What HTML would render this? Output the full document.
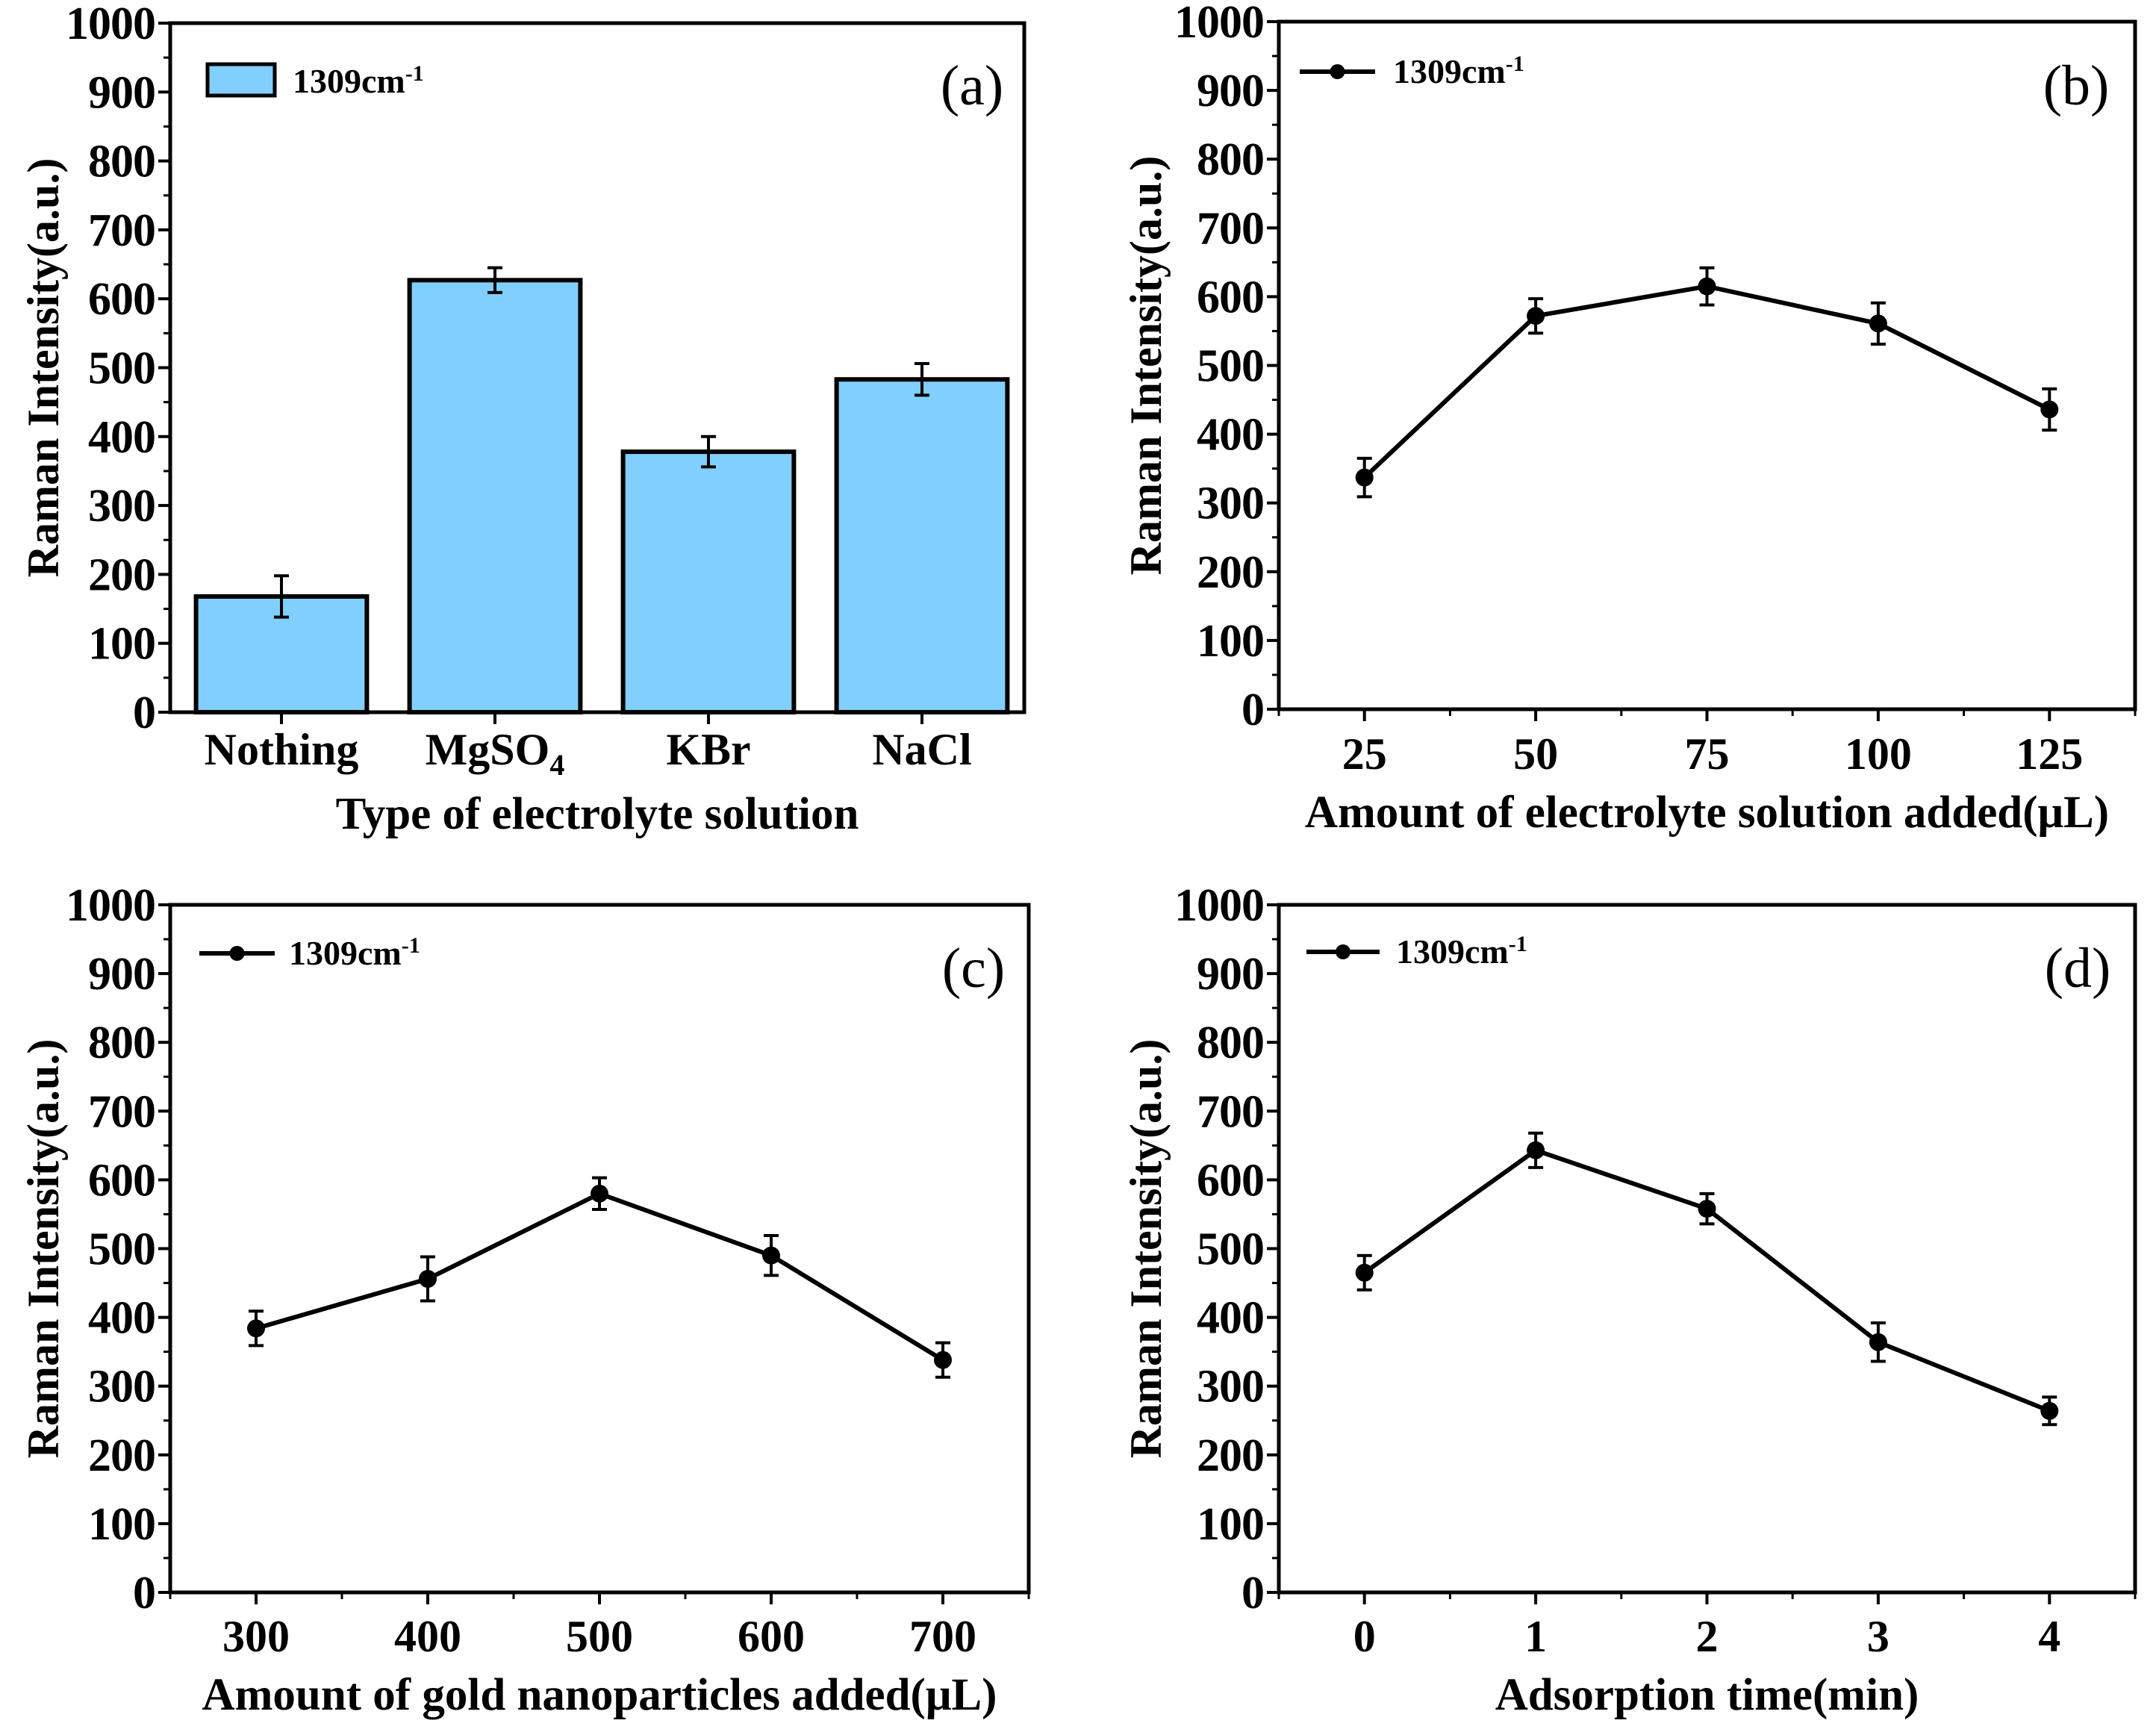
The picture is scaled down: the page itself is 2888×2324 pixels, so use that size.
<!DOCTYPE html>
<html><head><meta charset="utf-8"><style>
html,body{margin:0;padding:0;background:#fff;}
svg{display:block;font-family:"Liberation Serif",serif;}
</style></head><body>
<svg id="fig" width="2888" height="2324" viewBox="0 0 2888 2324" xmlns="http://www.w3.org/2000/svg"></svg>
<script>
const yTicks = [0,100,200,300,400,500,600,700,800,900,1000];
const aCategories = ["Nothing","MgSO4","KBr","NaCl"];
const aValues = [168,627,378,483];
const aErrors = [30,18,22,23];
const bX = [25,50,75,100,125];
const bValues = [337,572,615,561,436];
const bErrors = [28,25,27,30,30];
const cX = [300,400,500,600,700];
const cValues = [384,456,580,490,338];
const cErrors = [25,32,23,29,25];
const dX = [0,1,2,3,4];
const dValues = [465,643,558,364,264];
const dErrors = [25,25,22,28,20];

const svg = document.getElementById('fig');
const NS = 'http://www.w3.org/2000/svg';
function mk(tag, attrs, parent){
  const e = document.createElementNS(NS, tag);
  for (const k in attrs) e.setAttribute(k, attrs[k]);
  (parent||svg).appendChild(e);
  return e;
}

function axesFrame(g, P, xt, xlabel, ytitleX, tickLabelY, titleY, xMinor){
  const ys = v => P.B - (v/1000)*(P.B-P.T);
  yTicks.forEach(v=>{
    const t = mk('line',{x1:P.L-16,x2:P.L,y1:ys(v),y2:ys(v),stroke:'#000','stroke-width':4},g);
    
    
    const tx = mk('text',{x:P.L-20,y:ys(v)+21,'text-anchor':'end','font-size':62,'font-weight':'bold','letter-spacing':-1},g);
    tx.textContent = v;
    
    
    if (v<1000){
      const m = mk('line',{x1:P.L-9,x2:P.L,y1:ys(v+50),y2:ys(v+50),stroke:'#000','stroke-width':3},g);
      
      
    }
  });
  xt.forEach(o=>{
    const t = mk('line',{x1:o.x,x2:o.x,y1:P.B,y2:P.B+16,stroke:'#000','stroke-width':4},g);
    
    
    if (o.label!==undefined){
      const tx = mk('text',{x:o.x,y:tickLabelY,'text-anchor':'middle','font-size':60,'font-weight':'bold'},g);
      if (o.label==='MgSO4'){ tx.innerHTML='MgSO<tspan font-size="40" dy="14">4</tspan>'; }
      else tx.textContent=o.label;
      
      
    }
  });
  (xMinor||[]).forEach(x=>{
    const m = mk('line',{x1:x,x2:x,y1:P.B,y2:P.B+9,stroke:'#000','stroke-width':3},g);
    
    
  });
  const f = mk('rect',{x:P.L,y:P.T,width:P.R-P.L,height:P.B-P.T,fill:'none',stroke:'#000','stroke-width':5},g);
  
  
  const xt2 = mk('text',{x:(P.L+P.R)/2,y:titleY,'text-anchor':'middle','font-size':61,'font-weight':'bold'},g);
  xt2.textContent = xlabel;
  
  
  const cy=(P.T+P.B)/2;
  const yt = mk('text',{x:ytitleX,y:cy,'text-anchor':'middle','font-size':60,'font-weight':'bold',transform:`rotate(-90 ${ytitleX} ${cy})`,dy:20},g);
  yt.textContent = 'Raman Intensity(a.u.)';
  
  
  return ys;
}

function legendText(g,x,y){
  const t = mk('text',{x:x,y:y,'font-size':46,'font-weight':'bold'},g);
  t.innerHTML='1309cm<tspan font-size="30" dy="-16">-1</tspan>';
  
  
}
function panelLabel(g,x,y,s){
  const t = mk('text',{x:x,y:y,'text-anchor':'middle','font-size':76},g);
  t.textContent=s;
  
  
}
function errBar(g,x,ys,v,e,cap){
  const p = mk('path',{d:`M${x} ${ys(v-e)}V${ys(v+e)}M${x-cap} ${ys(v-e)}H${x+cap}M${x-cap} ${ys(v+e)}H${x+cap}`,stroke:'#000','stroke-width':4,fill:'none'},g);
  
  
}

(function(){
  const P={L:228,R:1372,T:31,B:954};
  const g=mk('g',{});
  
  
  const slot=(P.R-P.L)/aCategories.length;
  const xc=i=>P.L+6+slot*(i+0.5);
  const xt=aCategories.map((c,i)=>({x:xc(i),label:c}));
  const ys=axesFrame(g,P,xt,'Type of electrolyte solution',58,1024,1110,[]);
  aValues.forEach((v,i)=>{
    const w=slot*0.8;
    const r=mk('rect',{x:xc(i)-w/2,y:ys(v),width:w,height:P.B-ys(v),fill:'#80cfff',stroke:'#000','stroke-width':6},g);
    
    
    errBar(g,xc(i),ys,v,aErrors[i],10);
  });
  const lb=mk('rect',{x:278,y:86,width:90,height:42,fill:'#80cfff',stroke:'#000','stroke-width':5},g);
  
  
  legendText(g,392,124);
  panelLabel(g,1302,140,'(a)');
})();

function linePanel(name,P,xs,vals,errs,xmin,xmax,xlabel,ytx,tly,tty,leg,lab,labPos){
  const g=mk('g',{});
  
  
  const xsc=v=>P.L+(v-xmin)/(xmax-xmin)*(P.R-P.L);
  const xt=xs.map(v=>({x:xsc(v),label:String(v)}));
  const step=xs[1]-xs[0];
  const minor=[];
  for(let i=0;i<=xs.length;i++){minor.push(xsc(xs[0]+step*(i-0.5)));}
  const ys=axesFrame(g,P,xt,xlabel,ytx,tly,tty,minor);
  const d=xs.map((v,i)=>(i?'L':'M')+xsc(v)+' '+ys(vals[i])).join('');
  const pl=mk('path',{d:d,fill:'none',stroke:'#000','stroke-width':6},g);
  
  
  xs.forEach((v,i)=>{
    errBar(g,xsc(v),ys,vals[i],errs[i],10);
    const c=mk('circle',{cx:xsc(v),cy:ys(vals[i]),r:12,fill:'#000'},g);
    
    
  });
  const ll=mk('line',{x1:leg.x1,x2:leg.x2,y1:leg.y,y2:leg.y,stroke:'#000','stroke-width':6},g);
  
  
  const lc=mk('circle',{cx:(leg.x1+leg.x2)/2,cy:leg.y,r:10,fill:'#000'},g);
  
  
  legendText(g,leg.tx,leg.y+15);
  panelLabel(g,labPos[0],labPos[1],lab);
}

linePanel('panel-b',{L:1713,R:2860,T:29,B:950},bX,bValues,bErrors,12.5,137.5,'Amount of electrolyte solution added(\u03bcL)',1535,1030,1108,{x1:1741,x2:1842,y:96,tx:1866},'(b)',[2781,140]);
linePanel('panel-c',{L:228,R:1378,T:1212,B:2133},cX,cValues,cErrors,250,750,'Amount of gold nanoparticles added(\u03bcL)',58,2212,2290,{x1:267,x2:368,y:1277,tx:387},'(c)',[1304,1322]);
linePanel('panel-d',{L:1713,R:2860,T:1212,B:2133},dX,dValues,dErrors,-0.5,4.5,'Adsorption time(min)',1535,2212,2290,{x1:1750,x2:1848,y:1275,tx:1870},'(d)',[2783,1322]);
</script>
</body></html>
